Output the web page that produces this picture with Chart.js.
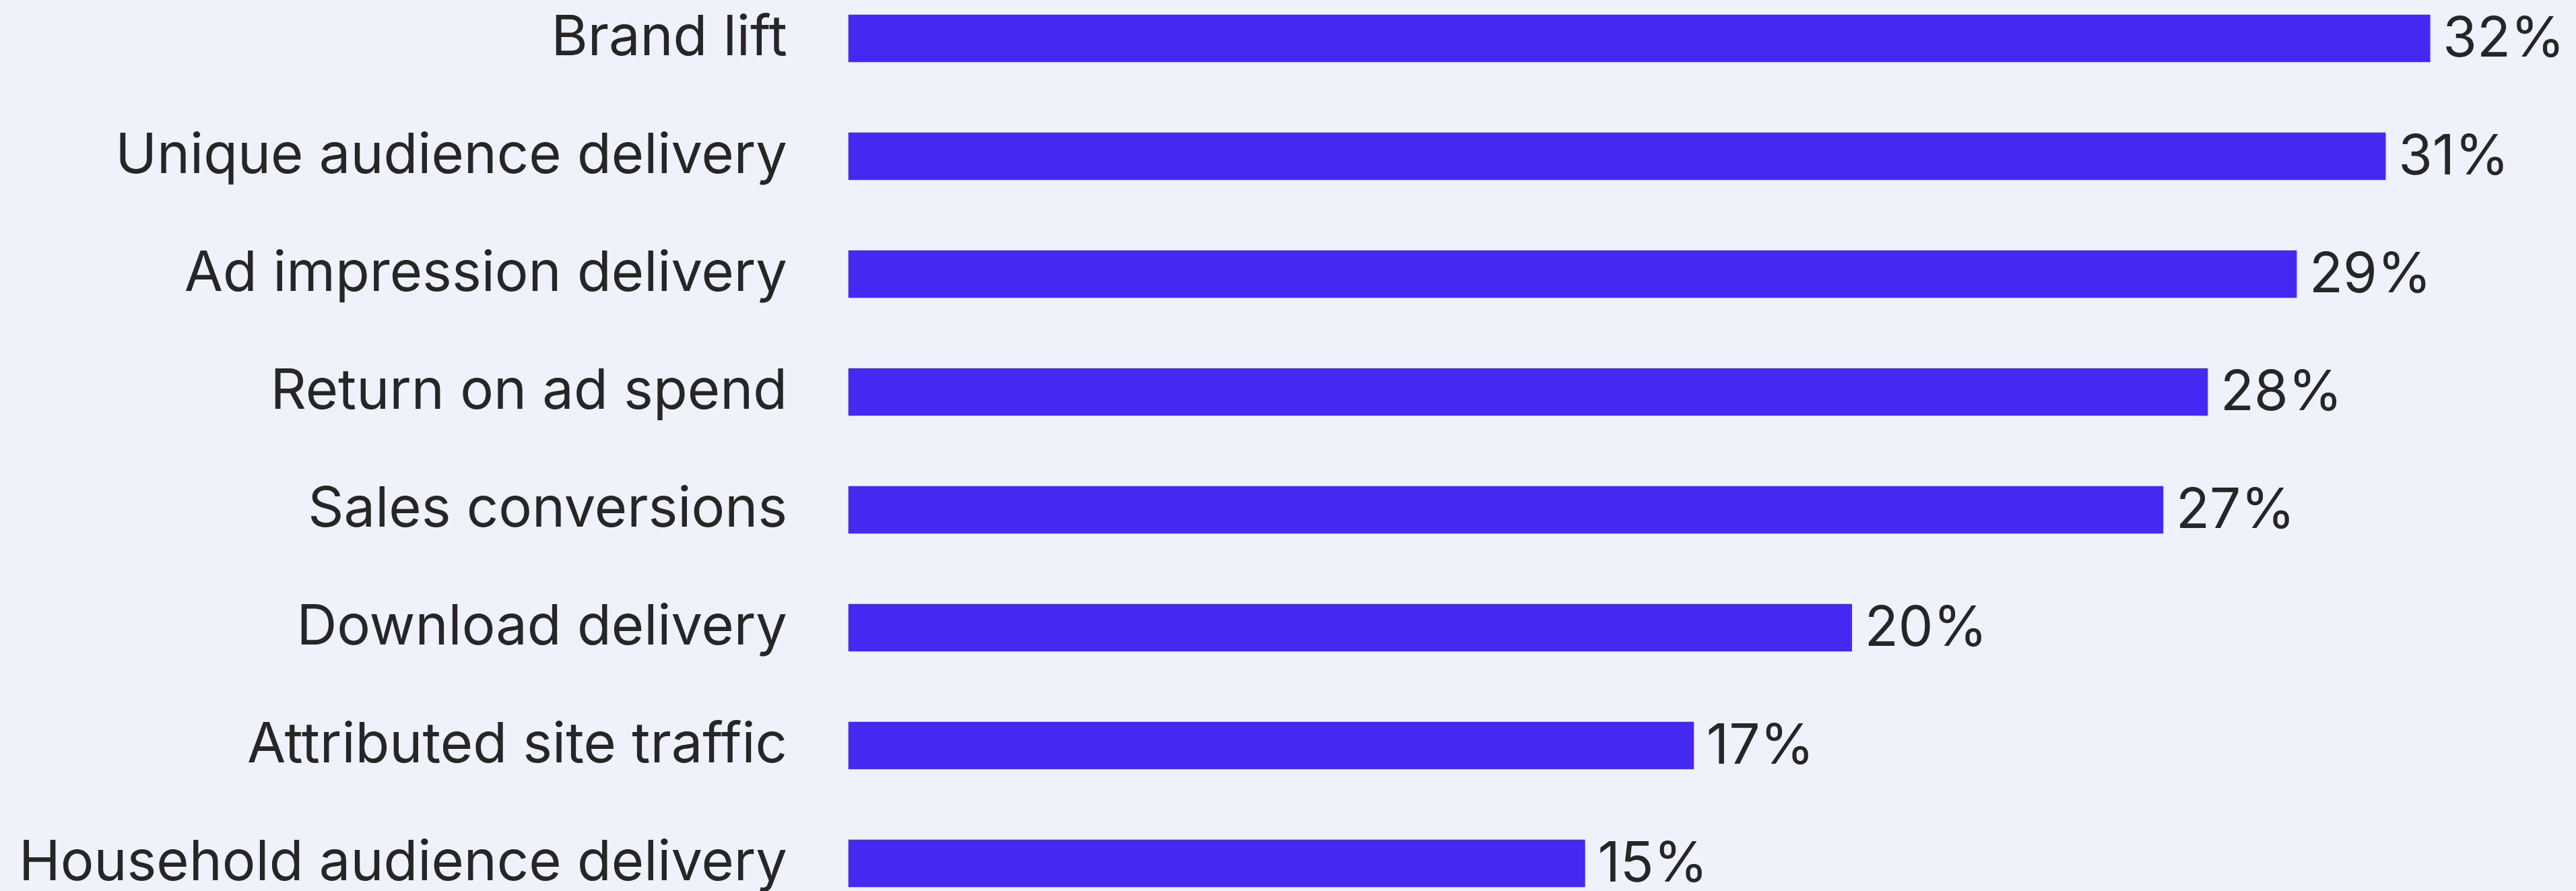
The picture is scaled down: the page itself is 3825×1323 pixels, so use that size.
<!DOCTYPE html>
<html>
<head>
<meta charset="utf-8">
<script src="https://cdn.jsdelivr.net/npm/chart.js@4.4.1/dist/chart.umd.min.js"></script>
<style>
  html, body { margin: 0; padding: 0; background: #eff2fb; }
  #wrap { width: 3825px; height: 1323px; position: relative; }
</style>
</head>
<body>
<div id="wrap"><canvas id="chart"></canvas></div>
<script>
const categories = [
  'Brand lift',
  'Unique audience delivery',
  'Ad impression delivery',
  'Return on ad spend',
  'Sales conversions',
  'Download delivery',
  'Attributed site traffic',
  'Household audience delivery'
];
const values = [32.0, 31.1, 29.3, 27.5, 26.6, 20.3, 17.1, 14.9];
const valueLabels = ['32%', '31%', '29%', '28%', '27%', '20%', '17%', '15%'];

const FONT = 'Inter, "Noto Sans", sans-serif';
const TEXT = '#262626';

const valueLabelPlugin = {
  id: 'valueLabels',
  afterDatasetsDraw(chart) {
    const ctx = chart.ctx;
    const meta = chart.getDatasetMeta(0);
    ctx.save();
    ctx.font = '82px ' + FONT;
    ctx.fillStyle = TEXT;
    ctx.textAlign = 'left';
    ctx.textBaseline = 'middle';
    meta.data.forEach((bar, i) => {
      ctx.fillText(valueLabels[i], bar.x + 19, bar.y + 2);
    });
    ctx.restore();
  }
};

const ctx = document.getElementById('chart').getContext('2d');
new Chart(ctx, {
  type: 'bar',
  data: {
    labels: categories,
    datasets: [{
      data: values,
      backgroundColor: '#4529f2',
      borderWidth: 0,
      barThickness: 70,
      clip: false
    }]
  },
  options: {
    indexAxis: 'y',
    responsive: true,
    maintainAspectRatio: false,
    animation: false,
    layout: { padding: { top: 57, bottom: 41, left: 0, right: 70 } },
    scales: {
      x: {
        min: 0,
        max: 34,
        display: false
      },
      y: {
        offset: false,
        grid: { display: false, drawTicks: false },
        border: { display: false },
        afterFit(scale) {
          scale.width = 1260;
          scale.paddingTop = 0;
          scale.paddingBottom = 0;
        },
        ticks: {
          padding: 91,
          color: TEXT,
          font: { family: FONT, size: 83 },
          autoSkip: false
        }
      }
    },
    plugins: {
      legend: { display: false },
      tooltip: { enabled: false }
    }
  },
  plugins: [valueLabelPlugin]
});
</script>
</body>
</html>
